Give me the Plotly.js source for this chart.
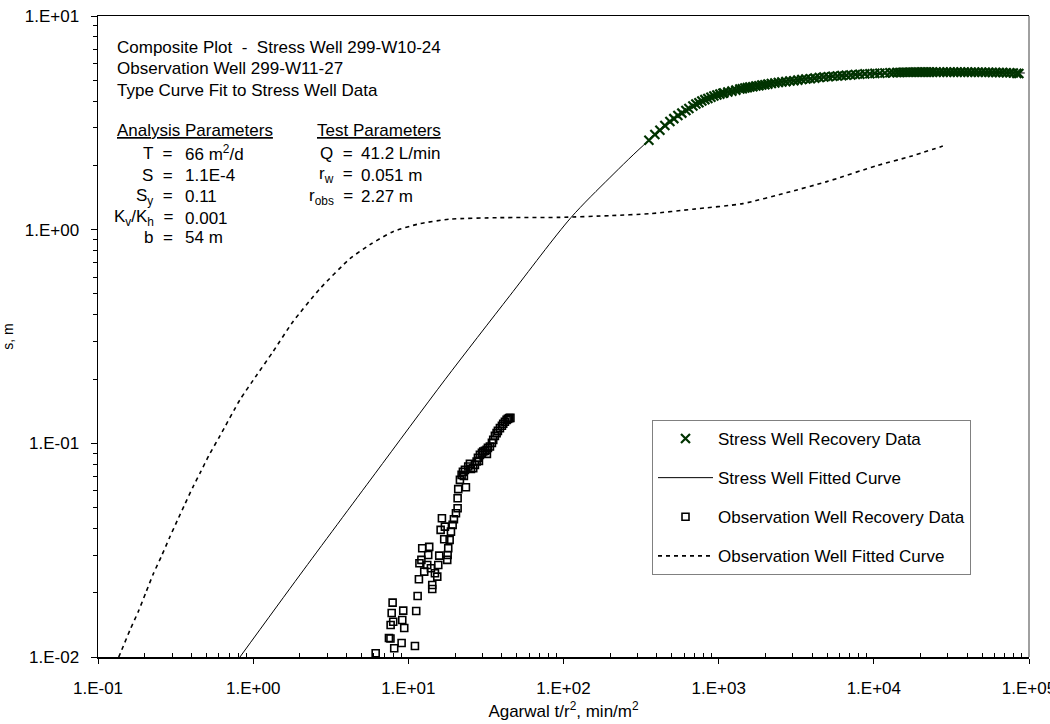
<!DOCTYPE html>
<html>
<head>
<meta charset="utf-8">
<script src="https://cdn.plot.ly/plotly-3.0.1.min.js"></script>
<style>html,body{margin:0;padding:0;background:#fff;}#chart{width:1050px;height:724px;}</style>
</head>
<body>
<div id="chart"></div>
<script>
// ---------- data ----------
const stressX = [355,388,418,450,485,514,546,579,615,643,682,713,746,779,815,852,891,931,974,1018,1064,1080,1146,1217,1291,1370,1421,1475,1530,1589,1661,1737,1816,1898,1985,2075,2185,2302,2425,2554,2710,2876,3051,3238,3436,3647,3897,4166,4455,4762,5090,5442,5820,6220,6650,7110,7600,8124,8750,9425,10150,10930,11780,12685,13360,14070,14710,15380,16080,16810,17570,18380,19210,20090,21000,21960,22950,24000,25270,26630,28040,29540,31110,32770,34510,36360,38290,40340,42480,44750,47130,49650,52290,55080,58010,61110,64360,67800,71410,75210,79230,83440,86000];
const stressY = [2.62,2.79,2.92,3.07,3.21,3.31,3.42,3.51,3.61,3.69,3.79,3.87,3.93,4.00,4.06,4.11,4.17,4.22,4.27,4.31,4.35,4.36,4.41,4.45,4.50,4.55,4.57,4.60,4.62,4.65,4.67,4.70,4.72,4.75,4.77,4.80,4.83,4.86,4.88,4.91,4.93,4.96,4.98,5.01,5.04,5.07,5.09,5.12,5.15,5.18,5.20,5.22,5.24,5.26,5.28,5.30,5.32,5.34,5.36,5.37,5.39,5.40,5.41,5.42,5.43,5.44,5.44,5.45,5.45,5.45,5.45,5.46,5.46,5.46,5.46,5.46,5.46,5.46,5.46,5.46,5.46,5.46,5.46,5.46,5.46,5.46,5.46,5.46,5.45,5.46,5.45,5.45,5.45,5.45,5.44,5.44,5.44,5.44,5.43,5.42,5.41,5.39,5.38];

const stressFitX = [0.822,2.00,6.09,17.2,45.1,111.6,199,352,757,1589,3336,8124,22950,64850,93970];
const stressFitY = [0.01,0.0242,0.0720,0.1983,0.491,1.138,1.752,2.60,3.98,4.65,5.04,5.34,5.45,5.44,5.41];

const obsX = [6.16,7.50,7.67,8.11,9.05,11.03,7.69,7.99,9.14,9.41,7.81,9.27,7.92,11.24,11.48,11.70,11.79,12.14,12.29,13.63,12.66,13.24,13.98,14.26,14.26,14.84,15.36,15.59,15.82,13.43,16.15,16.46,17.21,17.03,18.08,17.92,17.81,18.46,18.82,19.30,19.67,20.27,20.78,20.78,20.97,23.50,21.50,22.05,22.48,23.16,24.32,25.32,26.19,26.86,27.55,28.09,28.93,29.81,30.39,31.16,31.95,32.58,33.56,34.57,35.24,36.14,37.06,37.78,38.93,40.10,40.88,41.92,42.99,43.83,44.68,45.49,24.94,28.51,32.09,22.81];
const obsY = [0.01041,0.01227,0.01221,0.01098,0.01163,0.01126,0.01412,0.01463,0.01491,0.01367,0.01607,0.01648,0.01796,0.01643,0.01930,0.02311,0.02748,0.02847,0.03229,0.03275,0.02509,0.02697,0.02603,0.02174,0.02082,0.02466,0.02377,0.02697,0.02981,0.03004,0.03934,0.04463,0.04076,0.03558,0.03229,0.03004,0.02847,0.03532,0.03863,0.04152,0.04416,0.04710,0.04970,0.05537,0.06102,0.06234,0.06745,0.07120,0.07355,0.07515,0.07786,0.07597,0.07653,0.07931,0.08219,0.08552,0.08833,0.09026,0.09154,0.09224,0.09324,0.09526,0.09661,0.1005,0.1038,0.1084,0.1116,0.1144,0.1178,0.1208,0.1234,0.1261,0.1288,0.1302,0.1312,0.1316,0.08017,0.08279,0.08929,0.07043];

const obsFitX = [0.136,0.1421,0.1608,0.1818,0.2038,0.2272,0.2573,0.2880,0.3243,0.3636,0.4075,0.4587,0.5167,0.6109,0.8221,1.058,1.341,1.805,2.694,4.205,5.656,7.958,11.88,18.54,38.93,94.8,199.1,360.3,682,1432,2750,4980,10450,17060,27830];
const obsFitY = [0.01,0.01078,0.01338,0.01631,0.02009,0.02448,0.02981,0.03597,0.04349,0.05206,0.06209,0.07355,0.08737,0.1084,0.1599,0.2094,0.2683,0.3708,0.5293,0.7314,0.8507,0.9786,1.067,1.120,1.138,1.142,1.163,1.188,1.247,1.324,1.491,1.678,1.994,2.198,2.461];

const xTickVals = [0.1,1,10,100,1000,10000,100000];
const xTickText = ["1.E-01","1.E+00","1.E+01","1.E+02","1.E+03","1.E+04","1.E+05"];
const yTickVals = [0.01,0.1,1,10];
const yTickText = ["1.E-02","1.E-01","1.E+00","1.E+01"];

const seriesNames = ["Stress Well Recovery Data","Stress Well Fitted Curve","Observation Well Recovery Data","Observation Well Fitted Curve"];

// ---------- layout helpers ----------
const W = 1050, H = 724, ML = 98, MR = 21, MT = 16, MB = 67;
const PW = W - ML - MR, PH = H - MT - MB;
const px = v => (v - ML) / PW;
const py = v => (H - MB - v) / PH;

function minorVals(lo, hi) {
  const out = [];
  for (let d = lo; d < hi; d++) for (let k = 2; k <= 9; k++) out.push(k * Math.pow(10, d));
  return out;
}

const FONT = "Arial, 'Liberation Sans', sans-serif";

const traces = [
  {x: stressFitX, y: stressFitY, name: seriesNames[1], mode: 'lines', type: 'scatter',
   line: {color: '#000', width: 1, shape: 'spline', smoothing: 0.8}, legendrank: 2, legendgroup: 'b'},
  {x: obsFitX, y: obsFitY, name: seriesNames[3], mode: 'lines', type: 'scatter',
   line: {color: '#000', width: 1.6, dash: '4px,4px', shape: 'spline', smoothing: 0.6}, legendrank: 4, legendgroup: 'd'},
  {x: stressX, y: stressY, name: seriesNames[0], mode: 'markers', type: 'scatter',
   marker: {symbol: 'x-thin', size: 9, color: '#003300', line: {color: '#003300', width: 2.2}}, legendrank: 1, legendgroup: 'a'},
  {x: obsX, y: obsY, name: seriesNames[2], mode: 'markers', type: 'scatter',
   marker: {symbol: 'square-open', size: 7, color: '#000', line: {color: '#000', width: 1.6}}, legendrank: 3, legendgroup: 'c'}
];

function ann(text, x, y, anchor) {
  return {text: text, xref: 'paper', yref: 'paper', x: px(x), y: py(y), xanchor: anchor || 'left', yanchor: 'middle',
          showarrow: false, font: {family: FONT, size: 17, color: '#000'}, borderpad: 0};
}

const annotations = [
  ann("Composite Plot  -  Stress Well 299-W10-24", 116, 47),
  ann("Observation Well 299-W11-27", 116, 68.5),
  ann("Type Curve Fit to Stress Well Data", 116, 90),
  ann("<u>Analysis Parameters</u>", 116, 130),
  ann("<u>Test Parameters</u>", 316, 130),
  ann("T  =", 174, 153, 'right'), ann("66 m<sup>2</sup>/d", 184, 153),
  ann("S  =", 174, 175, 'right'), ann("1.1E-4", 184, 175),
  ann("S<sub>y</sub>  =", 174, 197, 'right'), ann("0.11", 184, 197),
  ann("K<sub>v</sub>/K<sub>h</sub>  =", 174, 218, 'right'), ann("0.001", 184, 218),
  ann("b  =", 174, 238, 'right'), ann("54 m", 184, 238),
  ann("Q  =", 354, 153, 'right'), ann("41.2 L/min", 360, 153),
  ann("r<sub>w</sub>  =", 354, 175, 'right'), ann("0.051 m", 360, 175),
  ann("r<sub>obs</sub>  =", 354, 197, 'right'), ann("2.27 m", 360, 197)
];

const layout = {
  width: W, height: H,
  margin: {l: ML, r: MR, t: MT, b: MB, pad: 0},
  paper_bgcolor: '#fff', plot_bgcolor: '#fff',
  font: {family: FONT, size: 17, color: '#000'},
  showlegend: true,
  legend: {x: px(652), y: py(420), xanchor: 'left', yanchor: 'top', bgcolor: '#fff',
           bordercolor: '#808080', borderwidth: 1, font: {family: FONT, size: 17, color: '#000'},
           traceorder: 'grouped', tracegroupgap: 14, itemwidth: 55},
  xaxis: {type: 'log', range: [-1, 5], tickmode: 'array', tickvals: xTickVals, ticktext: xTickText,
          ticks: 'outside', ticklen: 5, tickwidth: 1, tickcolor: '#000', showgrid: false, zeroline: false,
          showline: true, linecolor: '#000', linewidth: 1.5, mirror: true, ticklabeloverflow: 'allow',
          tickfont: {family: FONT, size: 17, color: '#000'}, ticklabelstandoff: 10,
          minor: {tickmode: 'array', tickvals: minorVals(-1, 5), ticks: 'inside', ticklen: 4, tickcolor: '#000', showgrid: false},
          title: {text: "Agarwal t/r<sup>2</sup>, min/m<sup>2</sup>", font: {family: FONT, size: 17, color: '#000'}, standoff: 8}},
  yaxis: {type: 'log', range: [-2, 1], tickmode: 'array', tickvals: yTickVals, ticktext: yTickText,
          ticks: 'outside', ticklen: 6, tickwidth: 1, tickcolor: '#000', showgrid: false, zeroline: false,
          showline: true, linecolor: '#000', linewidth: 1.5,
          tickfont: {family: FONT, size: 17, color: '#000'}, ticklabelstandoff: 8,
          minor: {tickmode: 'array', tickvals: minorVals(-2, 1), ticks: 'outside', ticklen: 4, tickcolor: '#000', showgrid: false},
          title: {text: "s, m", font: {family: FONT, size: 14, color: '#000'}, standoff: 14}},
  shapes: [
    {type: 'line', xref: 'paper', yref: 'paper', x0: 1, x1: 1, y0: 0, y1: 1, line: {color: '#808080', width: 1.5}}
  ],
  annotations: annotations
};

Plotly.newPlot('chart', traces, layout, {staticPlot: true, displayModeBar: false});
</script>
</body>
</html>
